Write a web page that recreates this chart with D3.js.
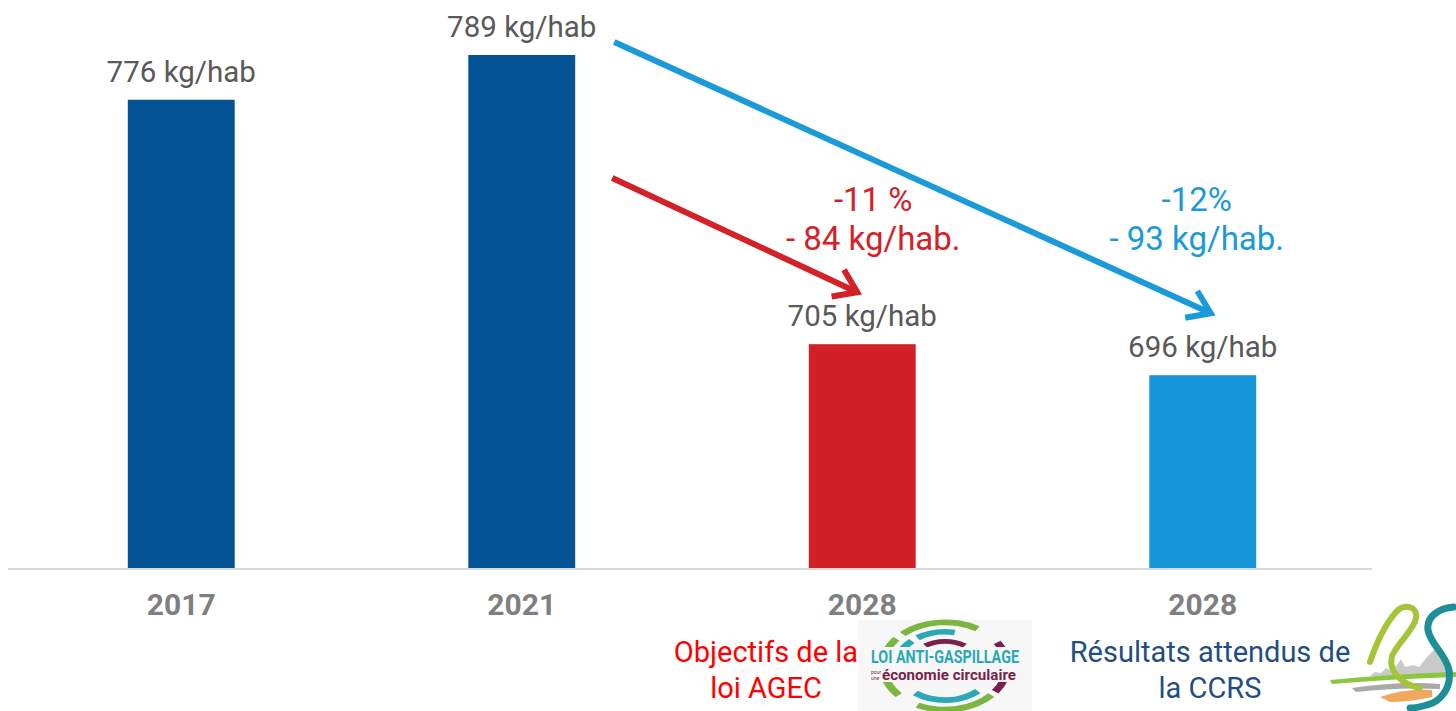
<!DOCTYPE html>
<html lang="fr">
<head>
<meta charset="UTF-8">
<title>Déchets kg/hab</title>
<script src="https://d3js.org/d3.v7.min.js"></script>
<style>
  body { margin: 0; background: #fff; }
  svg { display: block; font-family: Roboto, "Noto Sans", sans-serif; }
</style>
</head>
<body>
<script>
// données
const categories = ["2017", "2021", "2028a", "2028b"];
const tickLabels = ["2017", "2021", "2028", "2028"];
const values = [776, 789, 705, 696];
const barLabels = ["776 kg/hab", "789 kg/hab", "705 kg/hab", "696 kg/hab"];
const barColors = ["#035293", "#035293", "#d22027", "#1797d9"];
const gapLabels = [["-11 %", "- 84 kg/hab."], ["-12%", "- 93 kg/hab."]];
const footLabels = [["Objectifs de la", "loi AGEC"], ["Résultats attendus de", "la CCRS"]];

const width = 1456, height = 711;
const svg = d3.select("body").append("svg")
  .attr("width", width).attr("height", height);

const x = d3.scaleBand().domain(categories).range([11, 1373])
  .paddingInner(0.686).paddingOuter(0.343);
const y = d3.scaleLinear().domain([640, 789]).range([568, 55]);
const cx = i => x(categories[i]) + x.bandwidth() / 2;

// barres
svg.selectAll("rect.bar").data(values).enter().append("rect")
  .attr("class", "bar")
  .attr("x", (d, i) => x(categories[i]))
  .attr("y", d => y(d))
  .attr("width", x.bandwidth())
  .attr("height", d => y.range()[0] - y(d))
  .attr("fill", (d, i) => barColors[i]);

// axe horizontal
svg.append("line").attr("x1", 8).attr("x2", 1372)
  .attr("y1", 569).attr("y2", 569)
  .attr("stroke", "#d9d9d9").attr("stroke-width", 2);

const xAxis = svg.append("g").attr("transform", "translate(0,569)")
  .call(d3.axisBottom(x).tickSize(0).tickPadding(0).tickFormat((d, i) => tickLabels[i]));
xAxis.select(".domain").remove();
xAxis.selectAll("text")
  .attr("dy", null).attr("y", 46)
  .attr("font-family", "Roboto, sans-serif")
  .attr("font-size", 30).attr("font-weight", "bold").attr("fill", "#7f7f7f");

// étiquettes de valeur
svg.selectAll("text.val").data(values).enter().append("text")
  .attr("class", "val")
  .attr("x", (d, i) => cx(i))
  .attr("y", d => y(d) - 18)
  .attr("text-anchor", "middle")
  .attr("font-size", 29.5).attr("fill", "#595959")
  .text((d, i) => barLabels[i]);

// flèches
function arrow(x1, y1, x2, y2, color) {
  const ang = Math.atan2(y2 - y1, x2 - x1);
  const len = 26, spread = 0.6;
  const g = svg.append("g").attr("stroke", color).attr("stroke-width", 6)
    .attr("fill", "none").attr("stroke-linecap", "butt");
  g.append("line").attr("x1", x1).attr("y1", y1).attr("x2", x2 - 3 * Math.cos(ang)).attr("y2", y2 - 3 * Math.sin(ang));
  const p = [
    [x2 - len * Math.cos(ang - spread), y2 - len * Math.sin(ang - spread)],
    [x2, y2],
    [x2 - len * Math.cos(ang + spread), y2 - len * Math.sin(ang + spread)]
  ];
  g.append("path").attr("d", d3.line()(p)).attr("stroke-linejoin", "miter");
}
const bw = x.bandwidth();
arrow(cx(1) + bw / 2 + 39, y(values[1]) - 13, cx(3) + 8, y(values[3]) - 62, "#1a9ad9");
arrow(cx(1) + bw / 2 + 37, y(values[1]) + 123, cx(2) - 5, y(values[2]) - 52, "#d42027");

// écarts
const gapColors = ["#d42027", "#1a9ad9"];
const gapDx = [11, -6];
gapLabels.forEach((lines, k) => {
  const i = k + 2;
  lines.forEach((t, j) => {
    svg.append("text")
      .attr("x", cx(i) + gapDx[k]).attr("y", 211 + j * 39)
      .attr("text-anchor", "middle").attr("font-size", 33)
      .attr("fill", gapColors[k]).text(t);
  });
});

// légendes du bas
const footColors = ["#ff0000", "#1f4e85"];
const footX = [766, 1210];
footLabels.forEach((lines, k) => {
  lines.forEach((t, j) => {
    svg.append("text")
      .attr("x", footX[k]).attr("y", 662 + j * 36)
      .attr("text-anchor", "middle").attr("font-size", 29)
      .attr("fill", footColors[k]).text(t);
  });
});

// logo loi anti-gaspillage (approximation)
const lg = svg.append("g").attr("transform", "translate(945,666)");
lg.append("rect").attr("x", -87).attr("y", -46).attr("width", 174).attr("height", 46 + 45).attr("fill", "#f7f7f7");
const arcs = [
  { r: 46, a0: -2.3, a1: -0.9, c: "#7ab640", w: 6 },
  { r: 46, a0: -0.75, a1: 0.55, c: "#7ab640", w: 6 },
  { r: 36, a0: -1.6, a1: -0.75, c: "#2aa8b8", w: 6 },
  { r: 36, a0: -0.6, a1: 0.2, c: "#2aa8b8", w: 6 },
  { r: 26, a0: -0.6, a1: 0.6, c: "#7b1f4b", w: 5 },
  { r: 46, a0: 2.3, a1: 3.6, c: "#7ab640", w: 6 },
  { r: 36, a0: 2.4, a1: 3.8, c: "#2aa8b8", w: 6 },
  { r: 46, a0: 1.0, a1: 2.2, c: "#7b1f4b", w: 6 }
];
arcs.forEach(a => {
  lg.append("path")
    .attr("d", d3.arc().innerRadius(a.r - a.w / 2).outerRadius(a.r + a.w / 2).startAngle(a.a0).endAngle(a.a1)())
    .attr("fill", a.c).attr("transform", "scale(1.35,0.95)");
});
lg.append("rect").attr("x", -78).attr("y", -19).attr("width", 156).attr("height", 35).attr("fill", "#f7f7f7");
lg.append("text").attr("x", 0).attr("y", -3).attr("text-anchor", "middle")
  .attr("font-size", 18).attr("font-weight", "bold").attr("fill", "#2aa8b8")
  .attr("textLength", 148).attr("lengthAdjust", "spacingAndGlyphs").text("LOI ANTI-GASPILLAGE");
lg.append("text").attr("x", -74).attr("y", 8).attr("font-size", 5).attr("fill", "#7b1f4b").text("pour");
lg.append("text").attr("x", -74).attr("y", 14).attr("font-size", 5).attr("fill", "#7b1f4b").text("une");
lg.append("text").attr("x", -63).attr("y", 14).attr("font-size", 14).attr("font-weight", "bold").attr("fill", "#7b1f4b")
  .attr("textLength", 134).attr("lengthAdjust", "spacingAndGlyphs").text("économie circulaire");

// logo CCRS (approximation)
const cg = svg.append("g");
cg.append("path").attr("d", "M1370,676 l5,-4 l6,1 l5,-5 l6,3 l5,-6 l4,-6 l4,8 l8,-2 l6,2 l8,-10 l8,-8 l8,10 L1452,676 Z").attr("fill", "#c9c9c9");
cg.append("path").attr("d", "M1330,680 Q1390,674 1456,672 L1456,677 Q1390,679 1332,684 Z").attr("fill", "#8cc63f");
cg.append("path").attr("d", "M1352,688 Q1400,681 1440,684 L1440,689 Q1400,687 1356,692 Z").attr("fill", "#a9a9a9");
cg.append("path").attr("d", "M1380,697 Q1405,688 1432,690 L1432,697 Q1410,702 1390,702 Z").attr("fill", "#f0a860");
cg.append("path")
  .attr("d", "M1370,662 C1376,644 1384,626 1396,612 C1404,603 1418,606 1416,618 C1414,630 1398,642 1392,656 C1388,670 1400,684 1420,688")
  .attr("fill", "none").attr("stroke", "#a6c43a").attr("stroke-width", 6).attr("stroke-linecap", "round");
cg.append("path")
  .attr("d", "M1454,607 C1440,608 1426,616 1428,630 C1430,644 1446,654 1449,670 C1452,688 1440,702 1427,705 C1420,707 1414,708 1410,708")
  .attr("fill", "none").attr("stroke", "#1e8f98").attr("stroke-width", 7).attr("stroke-linecap", "round");
</script>
</body>
</html>
